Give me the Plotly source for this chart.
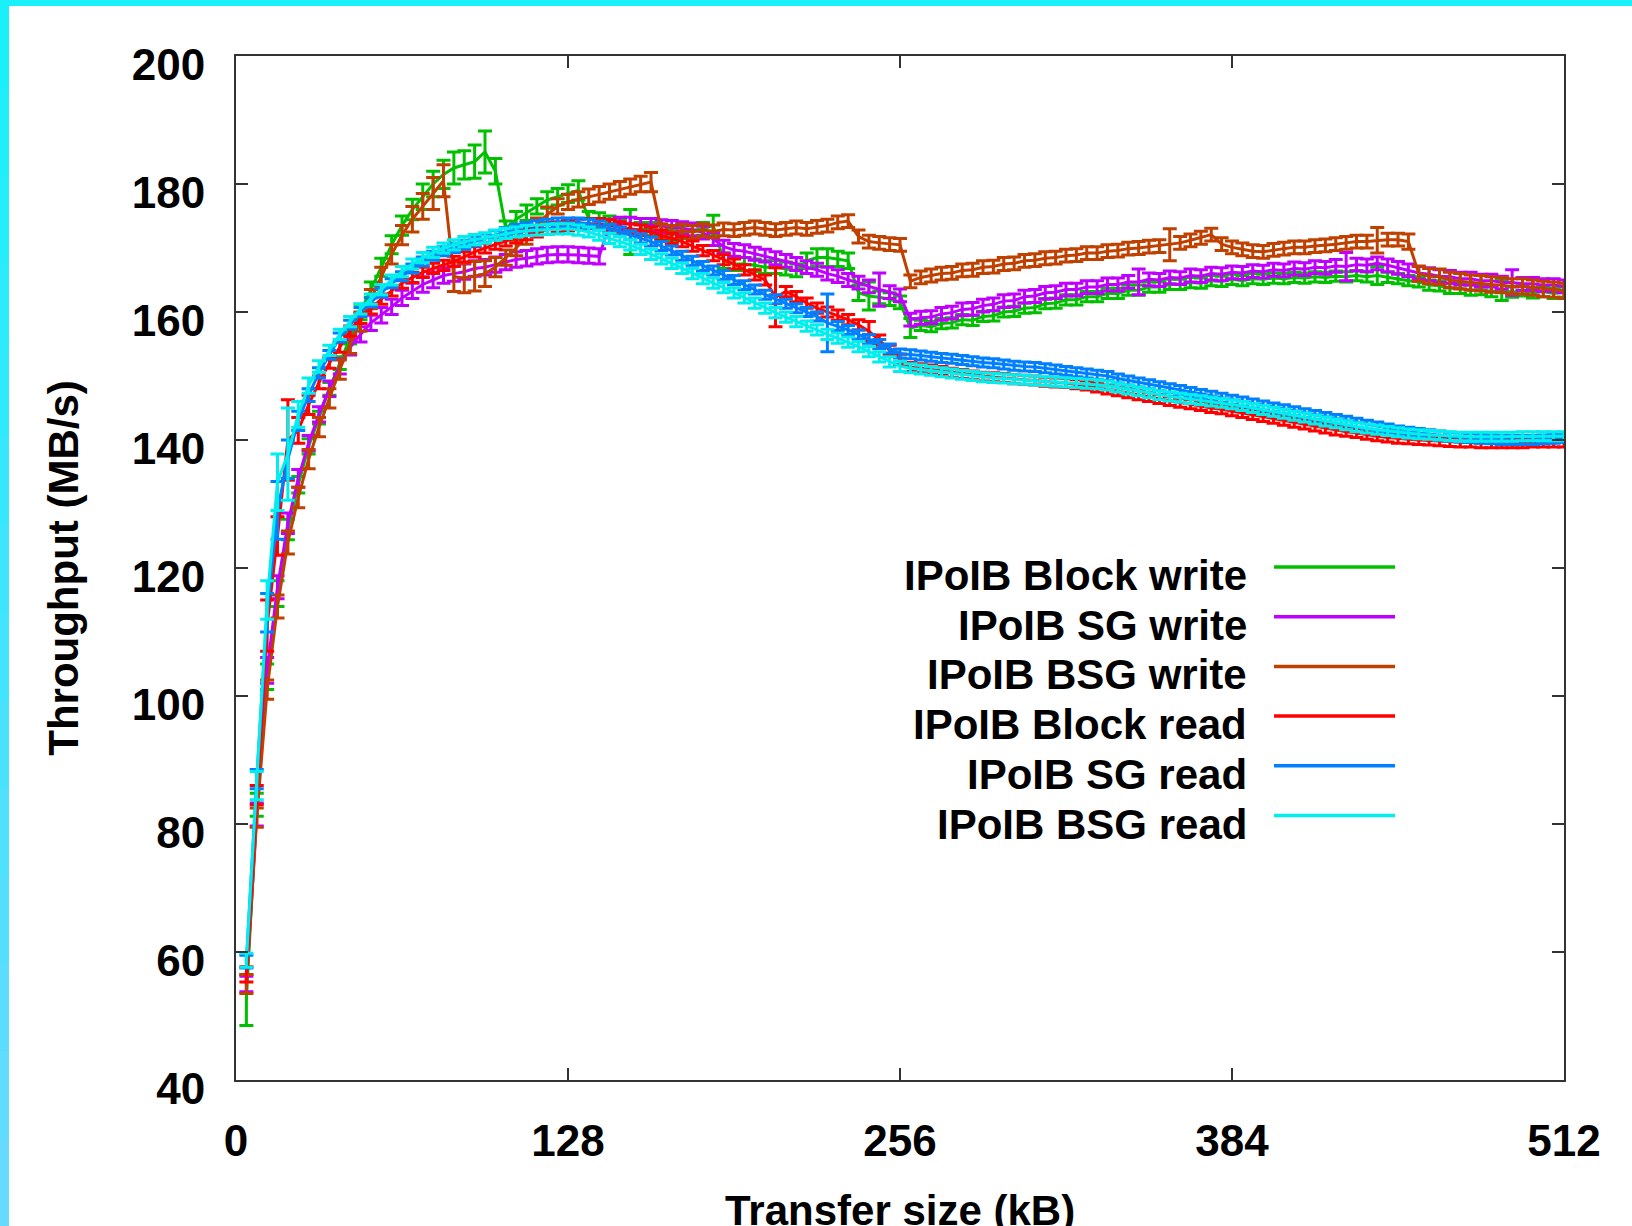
import plotly.graph_objects as go

# Transfer sizes (kB) at which throughput was measured
SIZES_KB = list(range(4, 513, 4))

SERIES_NAMES = [
    "IPoIB Block write",
    "IPoIB SG write",
    "IPoIB BSG write",
    "IPoIB Block read",
    "IPoIB SG read",
    "IPoIB BSG read",
]

X_TICKS = [0, 128, 256, 384, 512]
Y_TICKS = [40, 60, 80, 100, 120, 140, 160, 180, 200]
X_TITLE = "Transfer size (kB)"
Y_TITLE = "Throughput (MB/s)"

# Throughput (MB/s) per series, one value per transfer size
BLOCK_WRITE = [
    52.5, 83, 103, 116, 126, 133, 139, 143.5, 148, 152, 156, 160, 163.5, 167, 170.5, 173.5,
    176, 178, 180, 181.5, 182.5, 183, 183.5, 185, 182, 173, 174.5, 175.5, 176.5, 177.5, 178, 178.5,
    179, 174.5, 174.5, 174, 173.5, 172.5, 173, 173, 172.5, 172, 172.5, 172.8, 173, 173.5, 168, 167.5,
    167.5, 167.3, 167, 167, 166.8, 166.5, 168, 168.5, 168.5, 168.3, 168, 163, 162.5, 162.3, 162, 161.5,
    157.5, 157.9, 157.7, 158.2, 158.3, 158.8, 158.7, 159.3, 159.4, 160.0, 160.1, 160.6, 160.7, 161.3, 161.4, 161.9,
    161.9, 162.4, 162.4, 162.9, 162.9, 163.4, 163.4, 163.9, 163.9, 164.3, 164.3, 164.6, 164.5, 164.9, 164.8, 165.1,
    164.9, 165.2, 165.1, 165.3, 165.2, 165.4, 165.3, 165.5, 165.4, 165.6, 165.5, 165.7, 165.5, 165.7, 165.4, 165.2,
    164.9, 164.7, 164.2, 164.1, 163.7, 163.7, 163.4, 163.5, 163.2, 163.4, 163.1, 163.3, 163.0, 163.2, 162.9, 163.1,
]
BLOCK_WRITE_ERR = [
    4.0, 1.8, 2.0, 2.0, 1.6, 1.3, 1.2, 1.0, 1.0, 1.0, 1.0, 1.2, 1.2, 1.4, 1.4, 1.5,
    1.6, 2.0, 2.0, 2.2, 2.5, 2.2, 2.6, 3.3, 2.0, 1.2, 1.2, 1.2, 1.2, 1.3, 1.3, 1.4,
    1.5, 1.2, 1.0, 1.0, 1.0, 3.5, 1.0, 1.0, 1.0, 1.0, 1.0, 1.0, 1.0, 1.6, 1.2, 1.0,
    1.0, 1.0, 1.0, 1.0, 1.0, 1.0, 1.2, 1.4, 1.4, 1.2, 1.2, 1.2, 2.2, 1.0, 1.0, 1.0,
    1.5, 0.8, 0.8, 0.8, 0.8, 0.8, 0.8, 0.8, 0.8, 0.8, 0.8, 0.8, 0.8, 0.8, 0.8, 0.8,
    0.8, 0.8, 0.8, 0.8, 0.8, 0.8, 0.8, 0.8, 0.8, 0.8, 0.8, 0.8, 0.8, 0.8, 0.8, 0.8,
    0.8, 0.8, 0.8, 0.8, 0.8, 0.8, 0.8, 0.8, 0.8, 0.8, 0.8, 0.8, 0.8, 1.4, 0.8, 0.8,
    0.8, 0.8, 0.8, 0.8, 0.8, 0.8, 0.8, 0.8, 0.8, 1.6, 0.8, 0.8, 0.8, 0.8, 0.8, 0.8,
]

SG_WRITE = [
    55, 81.5, 104, 117, 127, 134, 139.5, 144, 148, 151.5, 154.5, 156.5, 158.3, 159.5, 160.8, 162.2,
    163.3, 164.3, 165, 165.7, 166, 166.3, 166.8, 167, 167.4, 167.8, 168.2, 168.4, 168.7, 168.9, 169, 169,
    168.9, 168.8, 168.7, 173.5, 173.8, 173.8, 173.6, 173.6, 173.4, 173.3, 173.1, 172.9, 172.4, 171.4, 170.2, 169.7,
    169.5, 169.1, 168.8, 168.4, 168, 167.5, 167, 166.6, 166, 165.6, 165, 164.6, 164, 163.5, 163.1, 162.6,
    158.8, 159.1, 159.2, 159.7, 159.9, 160.4, 160.5, 161, 161.2, 161.7, 161.8, 162.4, 162.5, 163, 163.1, 163.5,
    163.5, 163.9, 163.9, 164.3, 164.3, 164.7, 164.7, 165.1, 165, 165.4, 165.3, 165.7, 165.6, 166, 165.9, 166.2,
    166.1, 166.4, 166.3, 166.6, 166.5, 166.8, 166.7, 167, 166.9, 167.2, 167.1, 167.4, 167.3, 167.6, 167.3, 166.9,
    166.5, 166.1, 165.9, 165.6, 165.5, 165.2, 165.2, 164.9, 164.9, 164.6, 164.6, 164.4, 164.4, 164.2, 164.2, 164,
]
SG_WRITE_ERR = [
    1.2, 1.8, 2.0, 1.8, 1.6, 1.4, 1.2, 1.2, 1.2, 1.2, 1.2, 1.2, 1.2, 1.2, 1.2, 1.2,
    1.2, 1.2, 1.2, 1.2, 1.2, 1.2, 1.2, 1.2, 1.2, 1.2, 1.2, 1.2, 1.2, 1.2, 1.2, 1.2,
    1.2, 1.2, 1.2, 1.0, 1.0, 1.0, 1.0, 1.0, 1.0, 1.0, 1.0, 1.0, 1.0, 1.0, 1.0, 1.0,
    1.0, 1.0, 1.0, 1.0, 1.0, 1.0, 1.0, 1.0, 1.0, 1.0, 1.0, 1.0, 1.0, 2.6, 1.0, 1.0,
    1.0, 1.0, 1.0, 1.0, 1.0, 1.0, 1.0, 1.0, 1.0, 1.0, 1.0, 1.0, 1.0, 1.0, 1.0, 1.0,
    1.0, 1.0, 1.0, 1.0, 1.0, 1.0, 2.0, 1.0, 1.0, 1.0, 1.0, 1.0, 1.0, 1.0, 1.0, 1.0,
    1.0, 1.0, 1.0, 1.0, 1.0, 1.0, 1.0, 1.0, 1.0, 1.0, 2.2, 1.0, 1.0, 1.0, 1.0, 1.0,
    1.0, 1.0, 1.0, 1.0, 1.0, 1.0, 1.0, 1.0, 1.0, 1.0, 2.0, 1.0, 1.0, 1.0, 1.0, 1.0,
]

BSG_WRITE = [
    55, 81, 101, 114, 124, 131, 137, 142, 146.5, 151, 155, 158.5, 162, 165.5, 169, 172,
    174.5, 176.5, 178.5, 180.5, 165.5, 165.3, 165.6, 166, 167, 168.5, 170, 171.8, 173.5, 175.2, 176.5, 177.2,
    177.6, 178, 178.4, 178.8, 179.2, 179.6, 180, 180.3, 172.8, 172.5, 172.7, 172.5, 172.8, 172.6, 172.9, 172.8,
    173, 173.2, 173, 172.8, 173, 173.2, 173, 173.3, 173.5, 174, 174.2, 171.8, 171, 170.8, 170.6, 170.5,
    164.8, 165.4, 165.7, 166, 166.1, 166.5, 166.6, 167, 167.1, 167.5, 167.6, 168, 168.1, 168.4, 168.5, 168.8,
    168.9, 169.2, 169.2, 169.5, 169.6, 169.9, 170, 170.2, 170.3, 170.5, 170.8, 171.2, 171.6, 172.1, 170.6, 170.1,
    169.8, 169.5, 169.4, 169.7, 169.9, 170.1, 170.1, 170.3, 170.4, 170.6, 170.8, 171, 171, 171.2, 171.3, 171.3,
    171, 166, 165.6, 165.5, 165, 164.8, 164.6, 164.5, 164.3, 164.2, 164, 164, 163.8, 163.6, 163.5, 163.3,
]
BSG_WRITE_ERR = [
    1.5, 1.5, 1.5, 1.8, 1.8, 1.6, 1.5, 1.5, 1.5, 1.5, 1.5, 1.5, 1.5, 1.5, 1.5, 1.5,
    2.0, 2.0, 2.5, 2.5, 2.3, 2.3, 2.3, 2.0, 1.5, 1.2, 1.2, 1.2, 1.2, 1.2, 1.2, 1.2,
    1.2, 1.2, 1.2, 1.2, 1.2, 1.2, 1.2, 1.5, 1.0, 1.0, 1.0, 1.0, 1.0, 1.0, 1.0, 1.0,
    1.0, 1.0, 1.0, 1.0, 1.0, 1.0, 1.0, 1.0, 1.0, 1.0, 1.0, 1.0, 1.0, 1.0, 1.0, 1.0,
    1.0, 1.0, 1.0, 1.0, 1.0, 1.0, 1.0, 1.0, 1.0, 1.0, 1.0, 1.0, 1.0, 1.0, 1.0, 1.0,
    1.0, 1.0, 1.0, 1.0, 1.0, 1.0, 1.0, 1.0, 1.0, 2.5, 1.0, 1.0, 1.0, 1.0, 1.0, 1.0,
    1.0, 1.0, 1.0, 1.0, 1.0, 1.0, 1.0, 1.0, 1.0, 1.0, 1.0, 1.0, 1.0, 2.0, 1.0, 1.0,
    1.2, 1.2, 1.2, 1.2, 1.2, 1.2, 1.2, 1.2, 1.2, 1.2, 1.2, 1.2, 1.2, 1.2, 1.2, 1.2,
]

BLOCK_READ = [
    56.5, 84.5, 111, 125, 140, 141.5, 145.5, 149, 152, 154.5, 157, 159, 160.5, 162, 163.3, 164.5,
    165.4, 166.2, 166.8, 167.3, 167.9, 168.6, 169.4, 170, 170.6, 171.1, 171.6, 172.1, 172.5, 172.9, 173.3, 173.5,
    173.7, 173.8, 173.8, 173.6, 173.3, 173, 172.8, 172.5, 172, 171.5, 171, 170.3, 169.6, 168.8, 168.2, 167.5,
    166.6, 165.8, 165, 162.3, 163.2, 162.4, 161.4, 160.6, 160, 159.5, 158.8, 158, 157, 155.6, 154, 152.6,
    151.4, 151.2, 151, 150.8, 150.5, 150.3, 150.1, 149.9, 149.8, 149.7, 149.5, 149.4, 149.3, 149.1, 149, 148.9,
    148.7, 148.5, 148.2, 147.9, 147.6, 147.3, 147, 146.7, 146.4, 146.1, 145.8, 145.6, 145.3, 145, 144.8, 144.5,
    144.2, 143.9, 143.6, 143.3, 143, 142.7, 142.4, 142.1, 141.8, 141.5, 141.3, 141.1, 140.8, 140.6, 140.4, 140.2,
    140.1, 140, 139.9, 139.8, 139.7, 139.6, 139.6, 139.5, 139.5, 139.5, 139.5, 139.5, 139.6, 139.6, 139.6, 139.6,
]
BLOCK_READ_ERR = [
    1.2, 1.5, 4.0, 3.0, 6.3, 2.0, 1.5, 1.0, 0.8, 0.8, 0.8, 0.8, 0.8, 0.8, 0.8, 0.8,
    0.8, 0.8, 0.8, 0.8, 0.8, 0.8, 0.8, 0.8, 0.8, 0.8, 0.8, 0.8, 0.8, 0.8, 0.8, 0.8,
    0.8, 0.8, 0.8, 0.8, 0.8, 0.8, 0.8, 0.8, 0.8, 0.8, 0.8, 0.8, 0.8, 0.8, 0.8, 0.8,
    0.8, 0.8, 0.8, 4.6, 0.8, 0.8, 0.8, 0.8, 0.8, 0.8, 0.8, 0.8, 1.5, 0.8, 0.8, 0.8,
    0.7, 0.7, 0.7, 0.7, 0.7, 0.7, 0.7, 0.7, 0.7, 0.7, 0.7, 0.7, 0.7, 0.7, 0.7, 0.7,
    0.7, 0.7, 0.7, 0.7, 0.7, 0.7, 0.7, 0.7, 0.7, 0.7, 0.7, 0.7, 0.7, 0.7, 0.7, 0.7,
    0.7, 0.7, 0.7, 0.7, 0.7, 0.7, 0.7, 0.7, 0.7, 0.7, 0.7, 0.7, 0.7, 0.7, 0.7, 0.7,
    0.7, 0.7, 0.7, 0.7, 0.7, 0.7, 0.7, 0.7, 0.7, 0.7, 0.7, 0.7, 0.7, 0.7, 0.7, 0.7,
]

SG_READ = [
    58.5, 87, 113, 129, 137, 143, 147, 150.5, 153.3, 156, 158, 160, 161.5, 163, 164.5, 165.6,
    166.8, 167.9, 168.8, 169.5, 170, 170.5, 171, 171.5, 172, 172.5, 173, 173.3, 173.6, 173.8, 174, 174,
    174, 173.8, 173.5, 173, 172.6, 172, 171.5, 171, 170.3, 169.6, 168.8, 168, 167.2, 166.5, 165.8, 165,
    164.2, 163.5, 162.7, 162, 161.3, 160.6, 160, 159.3, 158.3, 157.8, 157.2, 156.5, 155.8, 155, 154.3, 153.5,
    153.4, 153.2, 153, 152.8, 152.7, 152.5, 152.3, 152.1, 152, 151.8, 151.6, 151.5, 151.4, 151.2, 151, 150.8,
    150.6, 150.4, 150.2, 150, 149.6, 149.3, 149, 148.7, 148.4, 148.1, 147.8, 147.5, 147.2, 146.9, 146.6, 146.3,
    146, 145.7, 145.4, 145.1, 144.8, 144.5, 144.2, 143.9, 143.6, 143.3, 143, 142.7, 142.4, 142.1, 141.8, 141.5,
    141.3, 141.1, 140.9, 140.7, 140.5, 140.4, 140.3, 140.2, 140.1, 140, 140, 140, 140, 140.1, 140.2, 140.3,
]
SG_READ_ERR = [
    1.0, 1.5, 3.0, 4.5, 3.0, 1.5, 1.0, 0.8, 0.7, 0.7, 0.7, 0.7, 0.7, 0.7, 0.7, 0.7,
    0.7, 0.7, 0.7, 0.7, 0.7, 0.7, 0.7, 0.7, 0.7, 0.7, 0.7, 0.7, 0.7, 0.7, 0.7, 0.7,
    0.7, 0.7, 0.7, 0.7, 0.7, 0.7, 0.7, 0.7, 0.7, 0.7, 0.7, 0.7, 0.7, 0.7, 0.7, 0.7,
    0.7, 0.7, 0.7, 0.7, 0.7, 0.7, 0.7, 0.7, 4.5, 0.7, 0.7, 0.7, 0.7, 0.7, 0.7, 0.7,
    0.7, 0.7, 0.7, 0.7, 0.7, 0.7, 0.7, 0.7, 0.7, 0.7, 0.7, 0.7, 0.7, 0.7, 0.7, 0.7,
    0.7, 0.7, 0.7, 0.7, 0.7, 0.7, 0.7, 0.7, 0.7, 0.7, 0.7, 0.7, 0.7, 0.7, 0.7, 0.7,
    0.7, 0.7, 0.7, 0.7, 0.7, 0.7, 0.7, 0.7, 0.7, 0.7, 0.7, 0.7, 0.7, 0.7, 0.7, 0.7,
    0.7, 0.7, 0.7, 0.7, 0.7, 0.7, 0.7, 0.7, 0.7, 0.7, 0.7, 0.7, 0.7, 0.7, 0.7, 0.7,
]

BSG_READ = [
    58.7, 86, 115, 133.4, 137.8, 144, 148.5, 151.5, 154, 156.5, 158.5, 160.5, 162, 163.5, 165, 166.3,
    167.5, 168.5, 169.3, 170, 170.5, 171, 171.3, 171.6, 172, 172.3, 172.5, 172.7, 172.8, 172.9, 173, 173,
    172.8, 172.5, 172, 171.5, 171, 170.5, 169.8, 169, 168.3, 167.6, 166.8, 166, 165.2, 164.5, 163.8, 163,
    162.2, 161.4, 160.6, 159.9, 159.2, 158.5, 157.8, 157.2, 156.5, 155.9, 155.3, 154.6, 153.8, 153, 152.2, 151.5,
    151.2, 151, 150.8, 150.6, 150.4, 150.2, 150, 149.8, 149.7, 149.6, 149.5, 149.4, 149.3, 149.2, 149.1, 149,
    148.9, 148.8, 148.7, 148.5, 148.2, 147.9, 147.6, 147.3, 147, 146.8, 146.6, 146.4, 146.2, 146, 145.8, 145.6,
    145.3, 145, 144.7, 144.4, 144.1, 143.8, 143.5, 143.2, 142.9, 142.6, 142.3, 142, 141.8, 141.6, 141.4, 141.2,
    141, 140.9, 140.8, 140.7, 140.6, 140.5, 140.5, 140.5, 140.5, 140.5, 140.5, 140.6, 140.6, 140.6, 140.6, 140.6,
]
BSG_READ_ERR = [
    1.1, 2.2, 3.0, 4.4, 7.2, 2.0, 1.2, 0.9, 0.8, 0.8, 0.8, 0.8, 0.8, 0.8, 0.8, 0.8,
    0.8, 0.8, 0.8, 0.8, 0.8, 0.8, 0.8, 0.8, 0.8, 0.8, 0.8, 0.8, 0.8, 0.8, 0.8, 0.8,
    0.8, 0.8, 0.8, 0.8, 0.8, 0.8, 0.8, 0.8, 0.8, 0.8, 0.8, 0.8, 0.8, 0.8, 0.8, 0.8,
    0.8, 0.8, 0.8, 0.8, 0.8, 0.8, 0.8, 0.8, 0.8, 0.8, 0.8, 0.8, 0.8, 0.8, 0.8, 0.8,
    0.7, 0.7, 0.7, 0.7, 0.7, 0.7, 0.7, 0.7, 0.7, 0.7, 0.7, 0.7, 0.7, 0.7, 0.7, 0.7,
    0.7, 0.7, 0.7, 0.7, 0.7, 0.7, 0.7, 0.7, 0.7, 0.7, 0.7, 0.7, 0.7, 0.7, 0.7, 0.7,
    0.7, 0.7, 0.7, 0.7, 0.7, 0.7, 0.7, 0.7, 0.7, 0.7, 0.7, 0.7, 0.7, 0.7, 0.7, 0.7,
    0.7, 0.7, 0.7, 0.7, 0.7, 0.7, 0.7, 0.7, 0.7, 0.7, 0.7, 0.7, 0.7, 0.7, 0.7, 0.7,
]

SERIES_VALUES = [BLOCK_WRITE, SG_WRITE, BSG_WRITE, BLOCK_READ, SG_READ, BSG_READ]
SERIES_ERRORS = [BLOCK_WRITE_ERR, SG_WRITE_ERR, BSG_WRITE_ERR, BLOCK_READ_ERR, SG_READ_ERR, BSG_READ_ERR]
SERIES_COLORS = ["#00C000", "#C000FF", "#C04000", "#FF0000", "#0080FF", "#00EEEE"]

# ---- page geometry (pixels) ----
W, H = 1632, 1226
ML, MR, MT, MB = 236, 68, 56, 146
PW, PH = W - ML - MR, H - MT - MB


def px_x(px):
    """Horizontal page pixel -> paper coordinate."""
    return (px - ML) / PW


def px_y(py):
    """Vertical page pixel (from top) -> paper coordinate."""
    return (H - MB - py) / PH


FONT = "Liberation Sans, Arial, sans-serif"
AXIS_COLOR = "#333333"

fig = go.Figure()

for name, vals, errs, color in zip(SERIES_NAMES, SERIES_VALUES, SERIES_ERRORS, SERIES_COLORS):
    fig.add_trace(go.Scatter(
        x=SIZES_KB, y=vals, name=name, mode="lines",
        line=dict(color=color, width=3),
        error_y=dict(type="data", array=errs, visible=True, color=color, thickness=3, width=7),
        showlegend=False,
    ))

# Key: right-aligned labels with a line sample to their right
KEY_ROW_GAP = 49.7
for i, (name, color) in enumerate(zip(SERIES_NAMES, SERIES_COLORS)):
    line_y = 567 + KEY_ROW_GAP * i
    fig.add_shape(type="line", xref="paper", yref="paper",
                  x0=px_x(1274), x1=px_x(1395), y0=px_y(line_y), y1=px_y(line_y),
                  line=dict(color=color, width=3.5))
    fig.add_annotation(xref="paper", yref="paper", x=px_x(1249), y=px_y(line_y + 8.5),
                       xanchor="right", yanchor="middle", showarrow=False, text=name,
                       font=dict(family=FONT, size=42, color="black", weight="bold"))

# Window frame: cyan strip along the top, fading to light blue down the left side
fig.add_shape(type="rect", xref="paper", yref="paper", layer="above",
              x0=px_x(0), x1=px_x(W), y0=px_y(6), y1=px_y(0),
              line=dict(width=0), fillcolor="#18F0FA")
frame_steps = 14
c_top = (0x1A, 0xF0, 0xFA)
c_bot = (0x66, 0xDA, 0xFF)
for k in range(frame_steps):
    t = k / (frame_steps - 1)
    rgb = tuple(round(a + (b - a) * t) for a, b in zip(c_top, c_bot))
    y_top = H * k / frame_steps
    y_bot = H * (k + 1) / frame_steps + 1
    fig.add_shape(type="rect", xref="paper", yref="paper", layer="above",
                  x0=px_x(0), x1=px_x(9), y0=px_y(y_bot), y1=px_y(y_top),
                  line=dict(width=0), fillcolor="rgb(%d,%d,%d)" % rgb)

tick_font = dict(family=FONT, size=44, color="black", weight="bold")
title_font = dict(family=FONT, size=42, color="black", weight="bold")

# x-axis title sits low, partly running off the bottom edge of the page
fig.add_annotation(xref="paper", yref="paper", x=0.5, y=px_y(1210),
                   xanchor="center", yanchor="middle", showarrow=False,
                   text=X_TITLE, font=title_font)

fig.update_xaxes(
    range=[0, 512], tickmode="array", tickvals=X_TICKS, ticktext=[str(v) for v in X_TICKS],
    ticks="inside", ticklen=12, tickwidth=2, tickcolor=AXIS_COLOR,
    showline=True, linecolor=AXIS_COLOR, linewidth=2, mirror="ticks",
    showgrid=False, zeroline=False, tickfont=tick_font, ticklabelstandoff=21,
)
fig.update_yaxes(
    range=[40, 200], tickmode="array", tickvals=Y_TICKS, ticktext=[str(v) for v in Y_TICKS],
    ticks="inside", ticklen=12, tickwidth=2, tickcolor=AXIS_COLOR,
    showline=True, linecolor=AXIS_COLOR, linewidth=2, mirror="ticks",
    showgrid=False, zeroline=False, tickfont=tick_font, ticklabelstandoff=20,
    ticklabelshift=9,
    title=dict(text=Y_TITLE, font=title_font, standoff=40),
)

fig.update_layout(
    width=W, height=H,
    margin=dict(l=ML, r=MR, t=MT, b=MB, autoexpand=False),
    paper_bgcolor="white", plot_bgcolor="white",
    showlegend=False,
    font=dict(family=FONT, color="black"),
)

fig.write_html("out.html")
